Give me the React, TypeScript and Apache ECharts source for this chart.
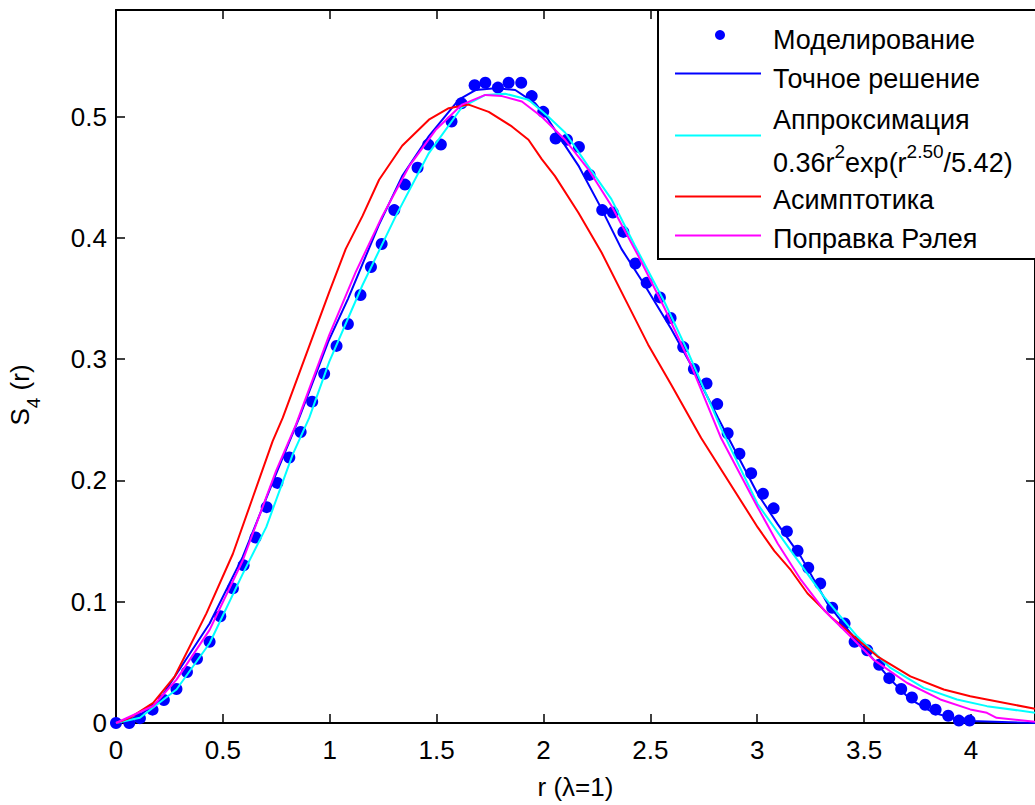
import React, { useEffect, useRef } from "react";
import * as echarts from "echarts";

// Моделирование (dots)
const simX = [0,0.062,0.112,0.171,0.224,0.283,0.332,0.379,0.438,0.488,0.547,0.597,0.653,0.705,0.755,0.811,0.864,0.918,0.974,1.032,1.085,1.144,1.193,1.243,1.302,1.352,1.411,1.461,1.520,1.570,1.616,1.678,1.728,1.787,1.837,1.896,1.945,1.999,2.057,2.110,2.166,2.216,2.275,2.325,2.374,2.430,2.483,2.545,2.595,2.654,2.704,2.763,2.813,2.862,2.917,2.972,3.027,3.077,3.139,3.189,3.239,3.295,3.351,3.409,3.456,3.515,3.571,3.618,3.674,3.724,3.786,3.835,3.894,3.944,3.994];
const simY = [0,0,0.004,0.011,0.019,0.028,0.042,0.053,0.067,0.088,0.111,0.130,0.153,0.178,0.198,0.219,0.240,0.265,0.288,0.311,0.329,0.353,0.376,0.395,0.423,0.444,0.458,0.477,0.477,0.496,0.511,0.526,0.528,0.524,0.528,0.528,0.517,0.504,0.482,0.481,0.475,0.452,0.423,0.421,0.405,0.379,0.363,0.351,0.334,0.310,0.292,0.280,0.263,0.239,0.222,0.206,0.189,0.177,0.158,0.142,0.128,0.115,0.095,0.082,0.067,0.060,0.048,0.037,0.028,0.021,0.015,0.011,0.006,0.002,0.002];

// Точное решение
const exactX = [0,0.1,0.2,0.276,0.438,0.593,0.748,0.858,0.993,1.086,1.228,1.339,1.464,1.604,1.682,1.775,1.868,1.962,2.023,2.072,2.166,2.272,2.365,2.474,2.598,2.707,2.816,3.002,3.096,3.205,3.329,3.438,3.546,3.624,3.717,3.826,3.935,3.997,4.3];
const exactY = [0,0.005,0.018,0.0385,0.082,0.137,0.205,0.252,0.3145,0.35,0.41,0.451,0.484,0.514,0.522,0.5235,0.522,0.511,0.4975,0.484,0.459,0.424,0.391,0.361,0.325,0.29,0.252,0.189,0.164,0.137,0.0986,0.074,0.052,0.0358,0.0194,0.0084,0.003,0.0016,0];

// Аппроксимация
const approxX = [0,0.112,0.283,0.438,0.593,0.703,0.827,0.904,0.998,1.153,1.309,1.464,1.619,1.728,1.821,1.93,2.023,2.101,2.21,2.318,2.427,2.567,2.676,2.831,3.002,3.158,3.313,3.469,3.624,3.779,3.935,4.075,4.3];
const approxY = [0,0.0043,0.0276,0.0658,0.123,0.1615,0.2216,0.2516,0.298,0.361,0.418,0.470,0.508,0.518,0.519,0.514,0.500,0.487,0.459,0.432,0.394,0.347,0.306,0.243,0.1806,0.142,0.104,0.0713,0.0454,0.029,0.0194,0.0139,0.0085];

// Асимптотика
const asymX = [0,0.065,0.174,0.275,0.423,0.547,0.64,0.733,0.78,0.998,1.075,1.153,1.231,1.339,1.464,1.557,1.65,1.744,1.852,1.93,1.992,2.054,2.163,2.272,2.381,2.49,2.598,2.738,3.002,3.08,3.158,3.235,3.344,3.453,3.562,3.717,3.873,3.997,4.075,4.3];
const asymY = [0,0.0043,0.0166,0.0385,0.0904,0.1396,0.186,0.2325,0.2516,0.3555,0.391,0.418,0.448,0.476,0.4975,0.507,0.510,0.504,0.492,0.481,0.465,0.451,0.421,0.388,0.350,0.312,0.279,0.235,0.1615,0.142,0.126,0.107,0.0877,0.0713,0.055,0.0385,0.0276,0.022,0.0194,0.0117];

// Поправка Рэлея
const raylX = [0,0.174,0.283,0.438,0.593,0.749,0.842,0.998,1.122,1.246,1.371,1.495,1.619,1.728,1.806,1.899,1.992,2.101,2.21,2.318,2.443,2.567,2.691,2.831,3.002,3.096,3.205,3.313,3.437,3.546,3.702,3.857,3.997,4.075,4.12,4.3];
const raylY = [0,0.014,0.0358,0.0768,0.134,0.208,0.246,0.320,0.372,0.418,0.459,0.489,0.510,0.518,0.517,0.5125,0.500,0.481,0.4566,0.4265,0.3855,0.342,0.295,0.235,0.178,0.148,0.118,0.093,0.0713,0.052,0.033,0.0194,0.0112,0.0084,0.0043,0.001];

const xTickLabels = ["0", "0.5", "1", "1.5", "2", "2.5", "3", "3.5", "4"];
const yTickLabels = ["0", "0.1", "0.2", "0.3", "0.4", "0.5"];

const FONT = "Liberation Sans, Arial, sans-serif";
const FS = 26;
const LFS = 27;

const zip = (xs: number[], ys: number[]) => xs.map((x, i) => [x, ys[i]]);

export default function App() {
  const ref = useRef<HTMLDivElement>(null);
  useEffect(() => {
    if (!ref.current) return;
    const chart = echarts.init(ref.current, null, { renderer: "svg" });
    const fmtX = (v: number) => {
      const k = Math.round(v * 2);
      if (Math.abs(v * 2 - k) > 1e-6 || k >= xTickLabels.length) return "";
      return xTickLabels[k];
    };
    const fmtY = (v: number) => {
      const k = Math.round(v * 10);
      if (Math.abs(v * 10 - k) > 1e-6 || k >= yTickLabels.length) return "";
      return yTickLabels[k];
    };
    const axisLine = { show: true, onZero: false, lineStyle: { color: "#000", width: 2 } };
    const axisTick = { show: true, inside: true, length: 9, lineStyle: { color: "#000", width: 1.5 } };
    const labelStyle = { color: "#000", fontSize: FS, fontFamily: FONT };

    const legX0 = 658;
    const lineX1 = 675, lineX2 = 761, textX = 773;
    const legend: any[] = [
      { type: "rect", shape: { x: legX0, y: 10, width: 420, height: 249 }, style: { fill: "#fff", stroke: "#000", lineWidth: 2 }, z: 100 },
      { type: "circle", shape: { cx: 720, cy: 35, r: 5 }, style: { fill: "#0000ff" }, z: 101 },
      { type: "line", shape: { x1: lineX1, y1: 73.5, x2: lineX2, y2: 73.5 }, style: { stroke: "#0000ff", lineWidth: 2 }, z: 101 },
      { type: "line", shape: { x1: lineX1, y1: 135.5, x2: lineX2, y2: 135.5 }, style: { stroke: "#00ffff", lineWidth: 2 }, z: 101 },
      { type: "line", shape: { x1: lineX1, y1: 196.5, x2: lineX2, y2: 196.5 }, style: { stroke: "#ff0000", lineWidth: 2 }, z: 101 },
      { type: "line", shape: { x1: lineX1, y1: 235.5, x2: lineX2, y2: 235.5 }, style: { stroke: "#ff00ff", lineWidth: 2 }, z: 101 },
      { type: "text", x: textX, y: 40, style: { text: "Моделирование", fill: "#000", font: `${LFS}px ${FONT}`, verticalAlign: "middle" }, z: 101 },
      { type: "text", x: textX, y: 79, style: { text: "Точное решение", fill: "#000", font: `${LFS}px ${FONT}`, verticalAlign: "middle" }, z: 101 },
      { type: "text", x: textX, y: 120, style: { text: "Аппроксимация", fill: "#000", font: `${LFS}px ${FONT}`, verticalAlign: "middle" }, z: 101 },
      {
        type: "text", x: textX, y: 159, z: 101,
        style: {
          text: "{n|0.36r}{s|2}{n|exp(r}{s|2.50}{n|/5.42)}",
          verticalAlign: "middle",
          rich: {
            n: { fontSize: LFS, fontFamily: FONT, fill: "#000", color: "#000", lineHeight: 34, verticalAlign: "bottom" },
            s: { fontSize: 19, fontFamily: FONT, fill: "#000", color: "#000", lineHeight: 34, verticalAlign: "top" },
          },
        },
      },
      { type: "text", x: textX, y: 200, style: { text: "Асимптотика", fill: "#000", font: `${LFS}px ${FONT}`, verticalAlign: "middle" }, z: 101 },
      { type: "text", x: textX, y: 239, style: { text: "Поправка Рэлея", fill: "#000", font: `${LFS}px ${FONT}`, verticalAlign: "middle" }, z: 101 },
      {
        type: "text", x: 25, y: 395, rotation: Math.PI / 2, z: 101,
        style: {
          text: "{n|S}{s|4}{n| (r)}",
          align: "center",
          verticalAlign: "middle",
          rich: {
            n: { fontSize: FS, fontFamily: FONT, fill: "#000", color: "#000", lineHeight: 36, verticalAlign: "top" },
            s: { fontSize: 19, fontFamily: FONT, fill: "#000", color: "#000", lineHeight: 36, verticalAlign: "bottom" },
          },
        },
      },
    ];

    chart.setOption({
      animation: false,
      backgroundColor: "#fff",
      grid: { left: 116, top: 10, right: -3, bottom: 78, containLabel: false },
      xAxis: [
        {
          type: "value", min: 0, max: 4.3, interval: 0.5, position: "bottom",
          axisLine, axisTick, splitLine: { show: false },
          axisLabel: { ...labelStyle, margin: 14, formatter: fmtX, showMaxLabel: false },
          name: "r (λ=1)", nameLocation: "middle", nameGap: 51,
          nameTextStyle: { ...labelStyle },
        },
        {
          type: "value", min: 0, max: 4.3, interval: 0.5, position: "top",
          axisLine, axisTick, splitLine: { show: false }, axisLabel: { show: false },
        },
      ],
      yAxis: [
        {
          type: "value", min: 0, max: 0.588, interval: 0.1, position: "left",
          axisLine, axisTick, splitLine: { show: false },
          axisLabel: { ...labelStyle, margin: 9, formatter: fmtY, showMaxLabel: false },
        },
        {
          type: "value", min: 0, max: 0.588, interval: 0.1, position: "right",
          axisLine, axisTick, splitLine: { show: false }, axisLabel: { show: false },
        },
      ],
      series: [
        { name: "Моделирование", type: "scatter", data: zip(simX, simY), symbol: "circle", symbolSize: 12, itemStyle: { color: "#0000ff", opacity: 1 }, z: 2 },
        { name: "Точное решение", type: "line", data: zip(exactX, exactY), showSymbol: false, lineStyle: { color: "#0000ff", width: 2 }, z: 3 },
        { name: "Аппроксимация", type: "line", data: zip(approxX, approxY), showSymbol: false, lineStyle: { color: "#00ffff", width: 2 }, z: 3 },
        { name: "Асимптотика", type: "line", data: zip(asymX, asymY), showSymbol: false, lineStyle: { color: "#ff0000", width: 2 }, z: 3 },
        { name: "Поправка Рэлея", type: "line", data: zip(raylX, raylY), showSymbol: false, lineStyle: { color: "#ff00ff", width: 2 }, z: 3 },
      ],
      graphic: legend,
    });
    return () => chart.dispose();
  }, []);
  return <div ref={ref} style={{ position: "fixed", left: 0, top: 0, width: 1035, height: 805, background: "#fff" }} />;
}
